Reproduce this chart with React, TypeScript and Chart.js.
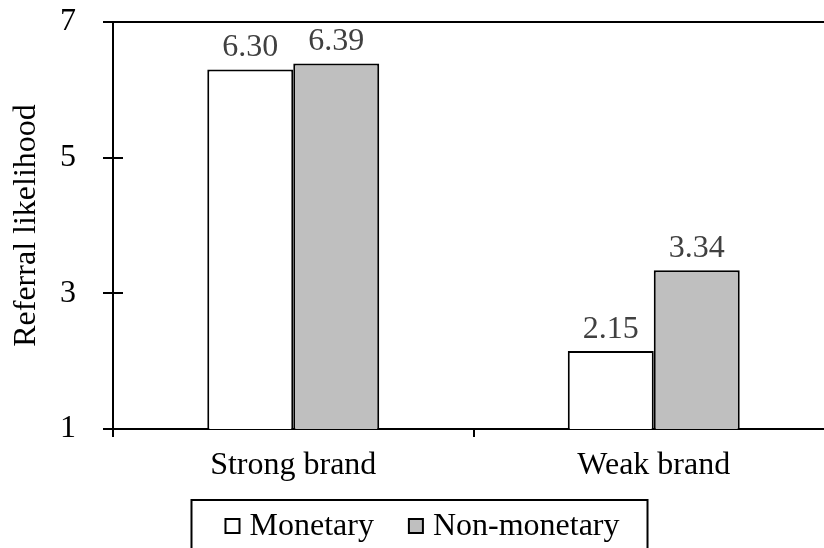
import { useEffect, useRef } from "react";
import { Chart, registerables } from "chart.js";

Chart.register(...registerables);

// Data
const categories = ["Strong brand", "Weak brand"];
const seriesNames = ["Monetary", "Non-monetary"];
const monetary = [6.3, 2.15];
const nonMonetary = [6.39, 3.34];
const yTicks = [1, 3, 5, 7];
const yTitle = "Referral likelihood";

const FONT = "'Liberation Serif', 'Times New Roman', serif";
const FONT_SIZE = 32;

// Value labels printed above each bar
const valueLabels = {
  id: "valueLabels",
  afterDatasetsDraw(chart: any) {
    const { ctx } = chart;
    ctx.save();
    ctx.font = `${FONT_SIZE}px ${FONT}`;
    ctx.fillStyle = "#404040";
    ctx.textAlign = "center";
    ctx.textBaseline = "alphabetic";
    chart.data.datasets.forEach((ds: any, i: number) => {
      const meta = chart.getDatasetMeta(i);
      meta.data.forEach((el: any, j: number) => {
        ctx.fillText(Number(ds.data[j]).toFixed(2), el.x, el.y - 13);
      });
    });
    ctx.restore();
  },
};

// Short tick marks on the inside of the value axis
const innerTicks = {
  id: "innerTicks",
  afterDraw(chart: any) {
    const { ctx, chartArea } = chart;
    const y = chart.scales.y;
    ctx.save();
    ctx.strokeStyle = "#000";
    ctx.lineWidth = 2;
    yTicks.forEach((v) => {
      const py = Math.round(y.getPixelForValue(v));
      ctx.beginPath();
      ctx.moveTo(chartArea.left, py);
      ctx.lineTo(chartArea.left + 10, py);
      ctx.stroke();
    });
    ctx.restore();
  },
};

// Legend inside a bordered box below the axis
const boxedLegend = {
  id: "boxedLegend",
  afterDraw(chart: any) {
    const { ctx } = chart;
    ctx.save();
    ctx.font = `${FONT_SIZE}px ${FONT}`;
    const sq = 14;
    const gap = 10;
    const spacing = 35;
    const items = chart.data.datasets.map((ds: any) => ({
      label: ds.label,
      fill: ds.backgroundColor,
      w: ctx.measureText(ds.label).width,
    }));
    const total =
      items.reduce((s: number, it: any) => s + sq + gap + it.w, 0) +
      spacing * (items.length - 1);
    const centerX = 422.5;
    const top = 500;
    const start = centerX - total / 2;
    ctx.strokeStyle = "#000";
    ctx.lineWidth = 2;
    ctx.strokeRect(start - 34, top, total + 62, 80);

    let x = start;
    const baseline = 535;
    items.forEach((it: any) => {
      ctx.fillStyle = it.fill;
      ctx.fillRect(x, 519, sq, sq);
      ctx.strokeStyle = "#000";
      ctx.lineWidth = 2;
      ctx.strokeRect(x, 519, sq, sq);
      ctx.fillStyle = "#000";
      ctx.textAlign = "left";
      ctx.textBaseline = "alphabetic";
      ctx.fillText(it.label, x + sq + gap, baseline);
      x += sq + gap + it.w + spacing;
    });
    ctx.restore();
  },
};

export default function App() {
  const canvasRef = useRef<HTMLCanvasElement | null>(null);

  useEffect(() => {
    const canvas = canvasRef.current;
    if (!canvas) return;
    const chart = new Chart(canvas, {
      type: "bar",
      data: {
        labels: categories,
        datasets: [
          {
            label: seriesNames[0],
            data: monetary,
            backgroundColor: "#ffffff",
            borderColor: "#000000",
            borderWidth: 2,
            categoryPercentage: 0.477,
            barPercentage: 1,
          },
          {
            label: seriesNames[1],
            data: nonMonetary,
            backgroundColor: "#bfbfbf",
            borderColor: "#000000",
            borderWidth: 2,
            categoryPercentage: 0.477,
            barPercentage: 1,
          },
        ],
      },
      options: {
        responsive: false,
        animation: false,
        devicePixelRatio: 1,
        layout: { padding: { top: 22, right: 6, bottom: 0, left: 0 } },
        plugins: {
          legend: { display: false },
          tooltip: { enabled: false },
        },
        scales: {
          x: {
            grid: {
              offset: true,
              drawOnChartArea: false,
              tickLength: 8,
              color: "#000",
              lineWidth: 2,
            },
            border: { color: "#000", width: 2 },
            ticks: {
              color: "#000",
              padding: 9,
              font: { family: FONT, size: FONT_SIZE },
            },
            afterFit(scale: any) {
              scale.height = 119;
            },
          },
          y: {
            min: 1,
            max: 7,
            afterBuildTicks(scale: any) {
              scale.ticks = yTicks.map((v) => ({ value: v }));
            },
            grid: {
              color: (c: any) =>
                c.tick && c.tick.value === 7 ? "#000" : "rgba(0,0,0,0)",
              tickColor: "#000",
              tickLength: 10,
              lineWidth: 2,
            },
            border: { color: "#000", width: 2 },
            ticks: {
              color: "#000",
              padding: 27,
              font: { family: FONT, size: FONT_SIZE },
            },
            title: {
              display: true,
              text: yTitle,
              color: "#000",
              font: { family: FONT, size: FONT_SIZE },
              padding: { top: 7, bottom: 0 },
            },
            afterFit(scale: any) {
              scale.width = 113;
              scale.paddingTop = 0;
              scale.paddingBottom = 0;
            },
          },
        },
      },
      plugins: [valueLabels, innerTicks, boxedLegend],
    });
    return () => chart.destroy();
  }, []);

  return (
    <div
      style={{
        position: "fixed",
        left: 0,
        top: 0,
        width: 824,
        height: 548,
        overflow: "hidden",
        background: "#fff",
      }}
    >
      <canvas ref={canvasRef} width={840} height={548} style={{ display: "block" }} />
    </div>
  );
}
